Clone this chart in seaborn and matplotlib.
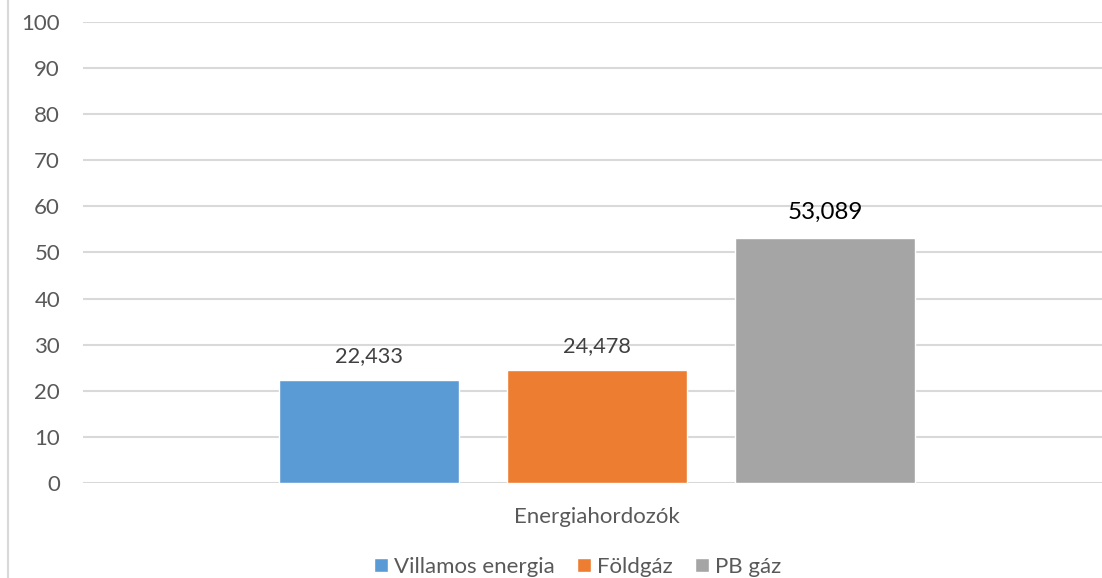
import pandas as pd
import matplotlib.pyplot as plt
import seaborn as sns
from matplotlib.lines import Line2D

category = ["Energiahordozók"]
series = ["Villamos energia", "Földgáz", "PB gáz"]
values = [22.433, 24.478, 53.089]
value_labels = ["22,433", "24,478", "53,089"]
colors = ["#5b9bd5", "#ed7d31", "#a5a5a5"]
y_ticks = list(range(0, 101, 10))

df = pd.DataFrame({
    "cat": category * len(series),
    "series": series,
    "value": values,
})

sns.set_theme(style="white")
plt.rcParams["font.family"] = ["Lato", "DejaVu Sans"]

fig = plt.figure(figsize=(11.02, 5.78), dpi=100)
ax = fig.add_axes([83 / 1102, (578 - 483) / 578, 1028 / 1102, 461 / 578])

sns.barplot(
    data=df, x="cat", y="value", hue="series",
    palette=colors, width=0.665, gap=0.21, ax=ax,
    saturation=1, legend=True,
)

ax.set_xlim(-0.5, 0.5)
ax.set_ylim(0, 100)
ax.set_yticks(y_ticks)
ax.yaxis.grid(True, color="#d9d9d9", linewidth=1.5)
ax.set_axisbelow(True)
for s in ax.spines.values():
    s.set_visible(False)
ax.tick_params(axis="both", length=0, colors="#595959", labelsize=16)
ax.tick_params(axis="y", pad=16.5)
ax.tick_params(axis="x", pad=17)
ax.set_xlabel("")
ax.set_ylabel("")

for i, cont in enumerate(ax.containers):
    big = i == 2
    ax.bar_label(
        cont, labels=[value_labels[i]], padding=11 if big else 10,
        fontsize=17.4 if big else 15.7,
        color="black" if big else "#404040",
    )

handles, labels = ax.get_legend_handles_labels()
ax.legend(
    handles, labels, loc="center", bbox_to_anchor=(578 / 1102, 1 - 567 / 578),
    bbox_transform=fig.transFigure, ncol=3, frameon=False, fontsize=16,
    handlelength=0.6, handleheight=0.6, handletextpad=0.3, columnspacing=1.0,
    labelcolor="#595959",
)

fig.add_artist(Line2D([7.5 / 1102, 7.5 / 1102], [0, 1], transform=fig.transFigure,
                      color="#d9d9d9", linewidth=1.5))

fig.savefig("out.png", dpi=100)
